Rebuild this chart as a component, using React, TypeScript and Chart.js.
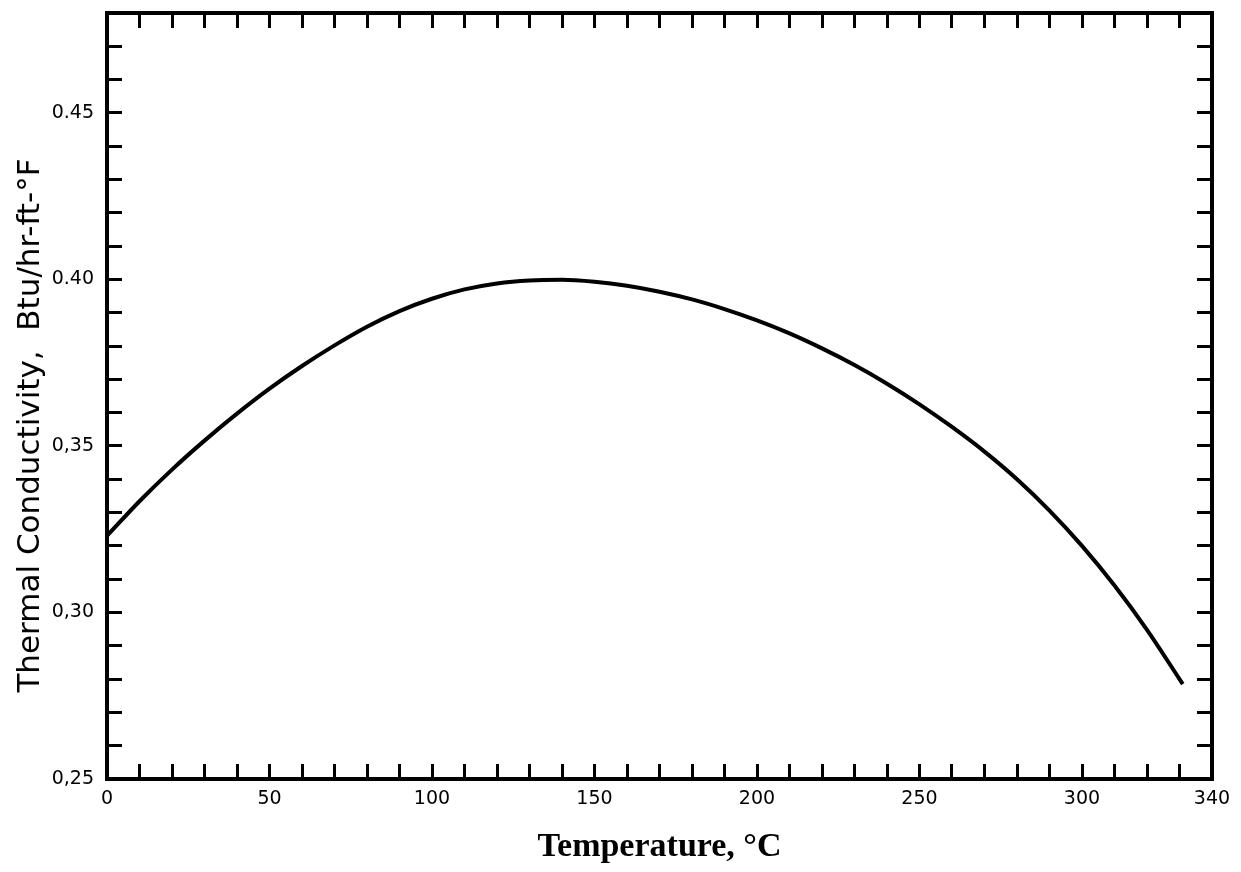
import React, { useEffect, useRef } from "react";
import { Chart, registerables } from "chart.js";

Chart.register(...registerables);

// Temperature (°C)
const temperatures = [0, 10, 20, 30, 40, 50, 60, 70, 80, 90, 100, 110, 120, 130, 140, 150, 160, 170, 180, 190, 200, 210, 220, 230, 240, 250, 260, 270, 280, 290, 300, 310, 320, 330, 331];
// Thermal conductivity (Btu/hr-ft-°F)
const conductivity = [
  0.323, 0.3334, 0.3429, 0.3516, 0.3597, 0.3672, 0.374, 0.3802, 0.3858, 0.3905, 0.3942, 0.397, 0.3988, 0.3997, 0.3999,
  0.3993, 0.3981, 0.3963, 0.394, 0.3911, 0.3877, 0.3838, 0.3793, 0.3743, 0.3687, 0.3625, 0.3557, 0.3483, 0.34, 0.3306,
  0.32, 0.3081, 0.2948, 0.28, 0.2785,
];

const xTickLabels = [0, 50, 100, 150, 200, 250, 300, 340];
const yTickLabels: Record<number, string> = { 25: "0,25", 30: "0,30", 35: "0,35", 40: "0.40", 45: "0.45" };

const xTitle = "Temperature, °C";
const yTitle = "Thermal Conductivity,  Btu/hr-ft-°F";

const W = 1241;
const H = 872;

const zeroPad = (s: any) => {
  s.paddingLeft = 0;
  s.paddingRight = 0;
  s.paddingTop = 0;
  s.paddingBottom = 0;
};

export default function App() {
  const ref = useRef<HTMLCanvasElement | null>(null);

  useEffect(() => {
    if (!ref.current) return;
    const tickFont = { family: "DejaVu Sans", size: 19 };
    const gridCommon = {
      drawOnChartArea: false,
      drawTicks: true,
      tickLength: -15,
      tickWidth: 3,
      tickColor: "#000",
      color: "#000",
    };
    const border = { display: true, color: "#000", width: 4 };
    const xTicks = (s: any) => {
      const t = [];
      for (let v = 0; v <= 340; v += 10) t.push({ value: v });
      s.ticks = t;
    };
    const yTicks = (s: any) => {
      const t = [];
      for (let v = 25; v <= 48; v += 1) t.push({ value: v / 100 });
      s.ticks = t;
    };
    const chart = new Chart(ref.current, {
      type: "line",
      data: {
        datasets: [
          {
            data: temperatures.map((t, i) => ({ x: t, y: conductivity[i] })),
            borderColor: "#000",
            borderWidth: 4,
            pointRadius: 0,
            cubicInterpolationMode: "monotone",
            fill: false,
          },
        ],
      },
      options: {
        responsive: false,
        animation: false,
        layout: { padding: { left: 0, top: 13, right: 29, bottom: 4 } },
        plugins: { legend: { display: false }, tooltip: { enabled: false } },
        scales: {
          x: {
            type: "linear",
            position: "bottom",
            min: 0,
            max: 340,
            grid: gridCommon,
            border,
            afterBuildTicks: xTicks,
            ticks: {
              autoSkip: false,
              maxRotation: 0,
              color: "#000",
              font: tickFont,
              padding: 24,
              callback: (v: any) => (xTickLabels.includes(Number(v)) ? String(v) : ""),
            },
            title: {
              display: true,
              text: xTitle,
              color: "#000",
              font: { family: "Liberation Serif", size: 34, weight: "bold" },
              padding: { top: 0, bottom: 0 },
            },
            afterFit: (s: any) => {
              s.height = 89;
              zeroPad(s);
            },
          },
          x2: {
            type: "linear",
            position: "top",
            min: 0,
            max: 340,
            grid: gridCommon,
            border,
            afterBuildTicks: xTicks,
            ticks: { display: false },
            afterFit: (s: any) => {
              s.height = 0;
              zeroPad(s);
            },
          },
          y: {
            type: "linear",
            position: "left",
            min: 0.25,
            max: 0.48,
            grid: gridCommon,
            border,
            afterBuildTicks: yTicks,
            ticks: {
              autoSkip: false,
              color: "#000",
              font: tickFont,
              padding: 28,
              callback: (v: any) => yTickLabels[Math.round(Number(v) * 100)] ?? "",
            },
            title: {
              display: true,
              text: yTitle + "\u00A0".repeat(6),
              color: "#000",
              font: { family: "DejaVu Sans", size: 31 },
              padding: { top: 12, bottom: 0 },
            },
            afterFit: (s: any) => {
              s.width = 107;
              zeroPad(s);
            },
          },
          y2: {
            type: "linear",
            position: "right",
            min: 0.25,
            max: 0.48,
            grid: gridCommon,
            border,
            afterBuildTicks: yTicks,
            ticks: { display: false },
            afterFit: (s: any) => {
              s.width = 0;
              zeroPad(s);
            },
          },
        },
      },
    } as any);
    return () => chart.destroy();
  }, []);

  return (
    <div style={{ position: "absolute", left: 0, top: 0, width: W, height: H, background: "#fff" }}>
      <canvas ref={ref} width={W} height={H} style={{ display: "block" }} />
    </div>
  );
}
